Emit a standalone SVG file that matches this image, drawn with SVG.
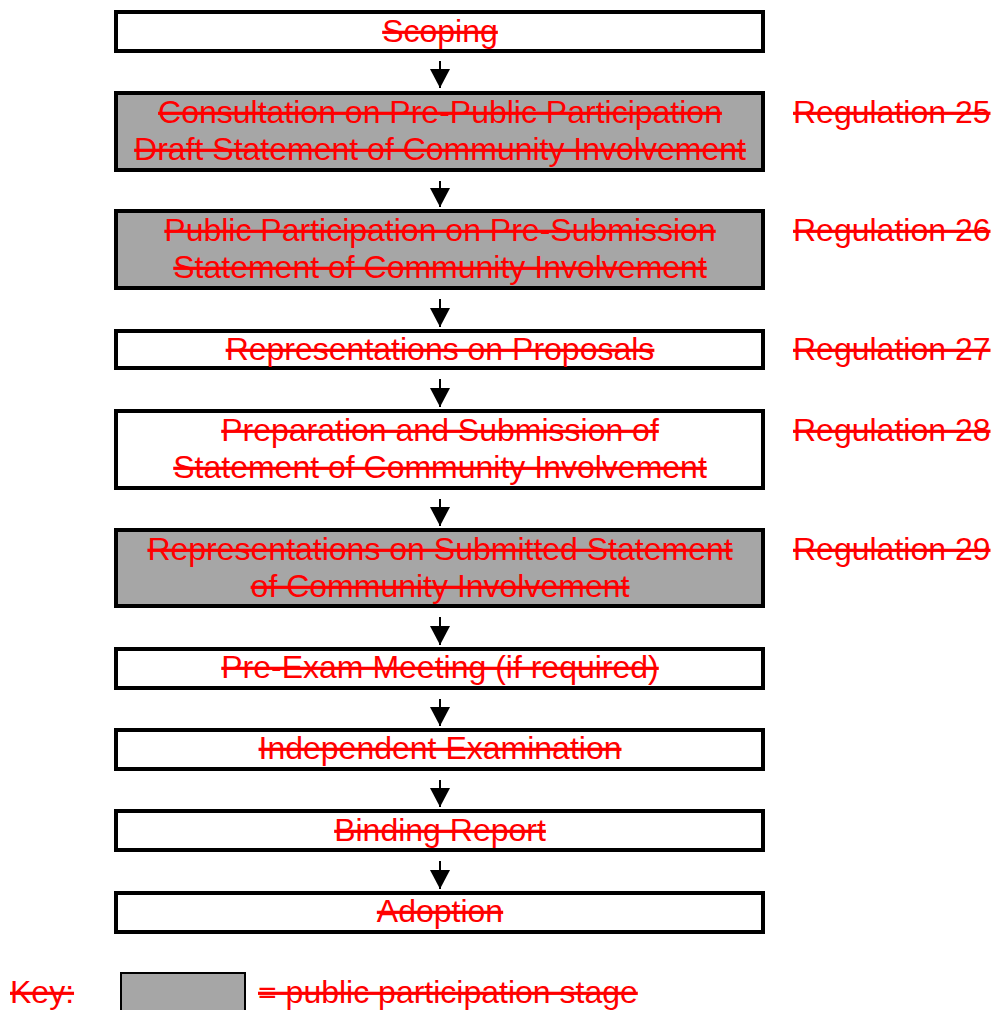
<svg xmlns="http://www.w3.org/2000/svg" width="995" height="1010" viewBox="0 0 995 1010">
<defs>
<marker id="ah" markerWidth="19" markerHeight="20" refX="19" refY="10" orient="auto" markerUnits="userSpaceOnUse" viewBox="0 0 19 20">
<path d="M0,0 L19,10 L0,20 Z" fill="#000"/>
</marker>
<style>
.box{stroke:#000;stroke-width:4;fill:#fff}
.pp{fill:#a6a6a6}
.t{font-family:"Liberation Sans",Arial,sans-serif;font-size:32px;fill:#ff0000;text-decoration:line-through;text-anchor:middle}
.r{font-family:"Liberation Sans",Arial,sans-serif;font-size:32px;fill:#ff0000;text-decoration:line-through}
.c{stroke:#000;stroke-width:2;fill:none}
</style>
</defs>
<rect width="995" height="1010" fill="#fff"/>
<g id="connectors">
<line class="c" x1="440" y1="61" x2="440" y2="88" marker-end="url(#ah)"/>
<line class="c" x1="440" y1="181" x2="440" y2="207" marker-end="url(#ah)"/>
<line class="c" x1="440" y1="299" x2="440" y2="327" marker-end="url(#ah)"/>
<line class="c" x1="440" y1="379" x2="440" y2="407" marker-end="url(#ah)"/>
<line class="c" x1="440" y1="499" x2="440" y2="526" marker-end="url(#ah)"/>
<line class="c" x1="440" y1="617" x2="440" y2="645" marker-end="url(#ah)"/>
<line class="c" x1="440" y1="699" x2="440" y2="726" marker-end="url(#ah)"/>
<line class="c" x1="440" y1="780" x2="440" y2="807" marker-end="url(#ah)"/>
<line class="c" x1="440" y1="861" x2="440" y2="889" marker-end="url(#ah)"/>
</g>
<g id="n1"><rect class="box" x="116" y="12" width="647" height="39"/><text class="t" x="440" y="42">Scoping</text></g>
<g id="n2"><rect class="box pp" x="116" y="93" width="647" height="77"/><text class="t" x="440" y="123">Consultation on Pre-Public Participation</text><text class="t" x="440" y="160">Draft Statement of Community Involvement</text></g>
<g id="n3"><rect class="box pp" x="116" y="211" width="647" height="77"/><text class="t" x="440" y="241">Public Participation on Pre-Submission</text><text class="t" x="440" y="278">Statement of Community Involvement</text></g>
<g id="n4"><rect class="box" x="116" y="331" width="647" height="37"/><text class="t" x="440" y="360">Representations on Proposals</text></g>
<g id="n5"><rect class="box" x="116" y="411" width="647" height="77"/><text class="t" x="440" y="441">Preparation and Submission of</text><text class="t" x="440" y="478">Statement of Community Involvement</text></g>
<g id="n6"><rect class="box pp" x="116" y="530" width="647" height="76"/><text class="t" x="440" y="560">Representations on Submitted Statement</text><text class="t" x="440" y="597">of Community Involvement</text></g>
<g id="n7"><rect class="box" x="116" y="649" width="647" height="39"/><text class="t" x="440" y="678">Pre-Exam Meeting (if required)</text></g>
<g id="n8"><rect class="box" x="116" y="730" width="647" height="39"/><text class="t" x="440" y="759">Independent Examination</text></g>
<g id="n9"><rect class="box" x="116" y="811" width="647" height="39"/><text class="t" x="440" y="841">Binding Report</text></g>
<g id="n10"><rect class="box" x="116" y="893" width="647" height="39"/><text class="t" x="440" y="922">Adoption</text></g>
<g id="regs">
<text class="r" x="793" y="123">Regulation 25</text>
<text class="r" x="793" y="241">Regulation 26</text>
<text class="r" x="793" y="360">Regulation 27</text>
<text class="r" x="793" y="441">Regulation 28</text>
<text class="r" x="793" y="560">Regulation 29</text>
</g>
<g id="key">
<text class="r" x="10" y="1003">Key:</text>
<rect x="121" y="973" width="124" height="45" fill="#a6a6a6" stroke="#000" stroke-width="2"/>
<text class="r" x="258" y="1003">= public participation stage</text>
</g>
</svg>
